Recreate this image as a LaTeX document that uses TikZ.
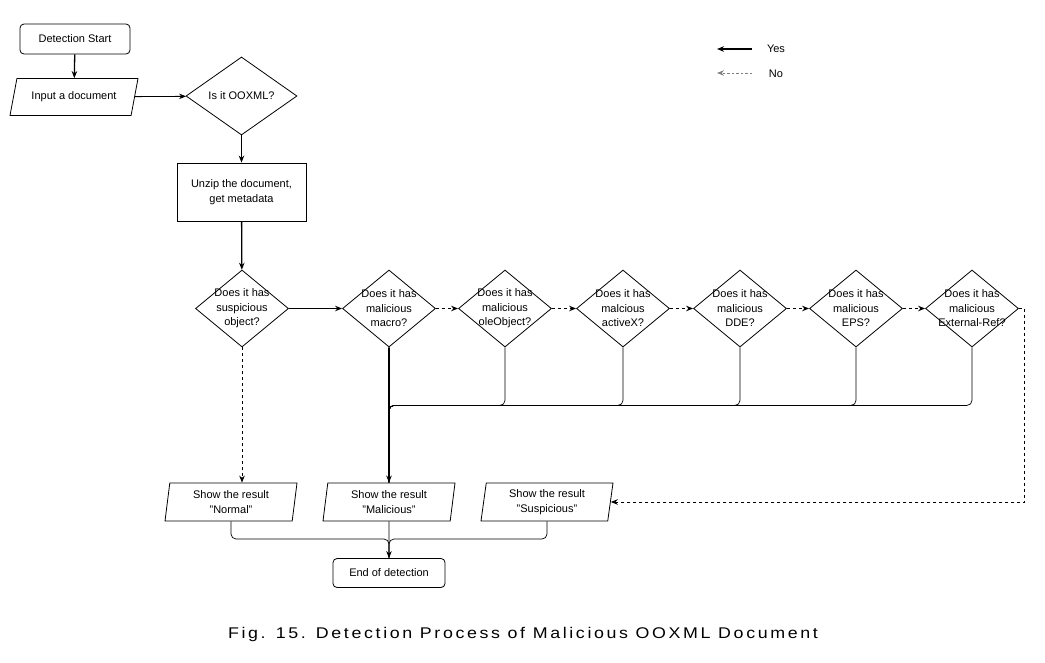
\documentclass[tikz,border=0pt]{standalone}
\usepackage{fontspec}
\setmainfont{Liberation Sans}
\newfontfamily\capfont[FakeStretch=1.15,LetterSpace=17]{Liberation Sans}
\usetikzlibrary{shapes.geometric,arrows.meta}

\begin{document}
\begin{tikzpicture}[x=1pt,y=-1pt,
  >={Stealth[length=7pt,width=5.5pt]},
  every node/.style={font=\fontsize{11}{14.5}\selectfont},
  term/.style={draw,line width=0.8pt,rounded corners=4pt,minimum width=110pt,minimum height=30pt,inner sep=0pt},
  dec/.style={draw,line width=0.8pt,diamond,minimum width=93pt,minimum height=77pt,inner sep=0pt},
  io/.style={draw,line width=0.8pt,trapezium,trapezium left angle=78,trapezium right angle=102,
    trapezium stretches body,minimum width=132pt,minimum height=38pt,inner sep=0pt,align=center},
  yesarrow/.style={->,line width=1.3pt},
  noarrow/.style={->,line width=0.9pt,dash pattern=on 3pt off 3pt},
  mergeline/.style={line width=0.7pt,rounded corners=5pt}]
\useasboundingbox (0,0) rectangle (1045,662);
% ---- top part ----
\node[term] (start) at (75,39) {Detection Start};
\node[io,trapezium left angle=56,trapezium right angle=124,minimum width=128pt,minimum height=37pt] (input) at (74,97) {Input a document};
\node[dec,minimum width=111pt,minimum height=78pt,label=center:{Is it OOXML?}] (ooxml) at (241.5,96) {};
\node[draw,line width=0.8pt,minimum width=129pt,minimum height=58pt,align=center] (unzip) at (241.5,192) {Unzip the document,\\get metadata};
\draw[yesarrow] (start) -- (input);
\draw[->,line width=0.8pt] (input) -- (ooxml);
\draw[yesarrow] (ooxml) -- (unzip);
% ---- checks ----
\foreach \n/\x/\t in {sus/242/suspicious\\object?, mac/389/malicious\\macro?, ole/505/malicious\\oleObject?,
  actx/623/malcious\\activeX?, dde/740/malicious\\DDE?, eps/856/malicious\\EPS?, ext/972/malicious\\External-Ref?}
  \node[dec,label={[align=center]center:Does it has\\\t}] (\n) at (\x,308.5) {};
\draw[yesarrow] (unzip) -- (sus);
\draw[yesarrow] (sus) -- (mac);
\draw[noarrow] (mac) -- (ole);
\draw[noarrow] (ole) -- (actx);
\draw[noarrow] (actx) -- (dde);
\draw[noarrow] (dde) -- (eps);
\draw[noarrow] (eps) -- (ext);
% ---- results ----
\node[io] (rnorm) at (231,502) {Show the result\\"Normal"};
\node[io] (rmal) at (389,502) {Show the result\\"Malicious"};
\node[io] (rsus) at (547,502) {Show the result\\"Suspicious"};
\node[term,minimum width=112pt,minimum height=29pt] (fin) at (389,573) {End of detection};
\draw[noarrow] (sus.south) -- (sus.south |- rnorm.north);
\foreach \n in {ole,actx,dde,eps,ext}
  \draw[mergeline] (\n.south) -- ++(0,58) -| (rmal.north);
\draw[->,line width=1.6pt] (mac) -- (rmal);
\draw[noarrow] (ext.east) -- ++(6,0) |- (rsus.east);
\coordinate (mrg) at (389,539);
\draw[mergeline] (rnorm.south) |- (mrg) -- (fin.north);
\draw[mergeline] (rsus.south) |- (mrg) -- (fin.north);
\draw[->,line width=0.8pt] (rmal) -- (fin);
% ---- legend ----
\coordinate (yesR) at (752,49);
\coordinate (yesL) at (717,49);
\coordinate (noR) at (752,73);
\coordinate (noL) at (717,73);
\draw[yesarrow] (yesR) -- (yesL);
\draw[->,line width=0.9pt,dash pattern=on 2.5pt off 2pt,gray] (noR) -- (noL);
\node (yeslab) at (776,49) {Yes};
\node (nolab) at (776,74) {No};
% ---- caption ----
\node[font=\capfont\fontsize{15.5}{18}\selectfont] (cap) at (523,634) {Fig. 15. Detection Process of Malicious OOXML Document};
\end{tikzpicture}
\end{document}
